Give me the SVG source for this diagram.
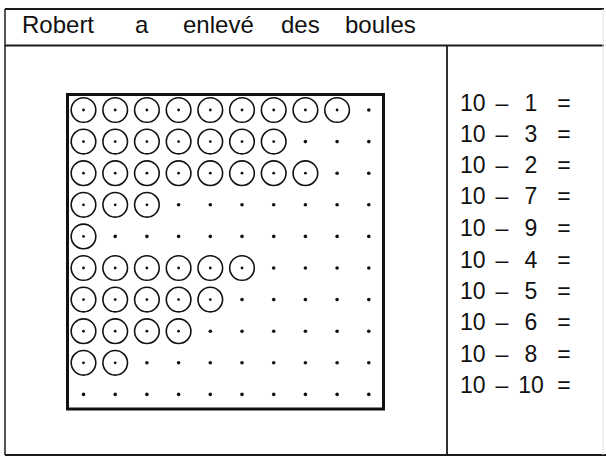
<svg xmlns="http://www.w3.org/2000/svg" xmlns:xlink="http://www.w3.org/1999/xlink" width="606" height="457" viewBox="0 0 606 457">
<style>
.frame{fill:none;stroke:#1a1a1a;stroke-width:2}
.box{fill:none;stroke:#111;stroke-width:3}
.t{font-family:"Liberation Sans",Arial,sans-serif;font-size:24px;fill:#111}
.eq{font-family:"Liberation Sans",Arial,sans-serif;font-size:23px;fill:#111}
.m{text-anchor:middle}
.ball{fill:none;stroke:#111;stroke-width:1.6}
.dot{fill:#111}
</style>
<defs>
<g id="b"><circle class="ball" r="12.3"/><circle class="dot" r="1.4"/></g>
<circle id="d" class="dot" r="1.8"/>
</defs>
<rect width="606" height="457" fill="#fff"/>
<g id="frame">
<line class="frame" x1="5" y1="9" x2="604" y2="9"/>
<line class="frame" x1="5" y1="45.5" x2="604" y2="45.5"/>
<line class="frame" x1="5" y1="455" x2="606" y2="455"/>
<line class="frame" x1="5" y1="9" x2="5" y2="455" style="stroke-width:1.5"/>
<line class="frame" x1="603" y1="9" x2="603" y2="455" style="stroke:#e4e4e4;stroke-width:1"/>
<line class="frame" x1="447" y1="45.5" x2="447" y2="455" style="stroke-width:1.8"/>
</g>
<g id="title">
<text class="t" x="22" y="33">Robert</text>
<text class="t" x="135" y="33">a</text>
<text class="t" x="183" y="33">enlevé</text>
<text class="t" x="281" y="33">des</text>
<text class="t" x="345" y="33">boules</text>
</g>
<g id="grid">
<rect class="box" x="67.5" y="94.5" width="316" height="314.5"/>
<g id="r1">
<use href="#b" x="83.5" y="110"/><use href="#b" x="115.2" y="110"/><use href="#b" x="146.9" y="110"/><use href="#b" x="178.6" y="110"/><use href="#b" x="210.3" y="110"/><use href="#b" x="242" y="110"/><use href="#b" x="273.7" y="110"/><use href="#b" x="305.4" y="110"/><use href="#b" x="337.1" y="110"/><use href="#d" x="368.8" y="110"/>
</g>
<g id="r2">
<use href="#b" x="83.5" y="141.6"/><use href="#b" x="115.2" y="141.6"/><use href="#b" x="146.9" y="141.6"/><use href="#b" x="178.6" y="141.6"/><use href="#b" x="210.3" y="141.6"/><use href="#b" x="242" y="141.6"/><use href="#b" x="273.7" y="141.6"/><use href="#d" x="305.4" y="141.6"/><use href="#d" x="337.1" y="141.6"/><use href="#d" x="368.8" y="141.6"/>
</g>
<g id="r3">
<use href="#b" x="83.5" y="173.2"/><use href="#b" x="115.2" y="173.2"/><use href="#b" x="146.9" y="173.2"/><use href="#b" x="178.6" y="173.2"/><use href="#b" x="210.3" y="173.2"/><use href="#b" x="242" y="173.2"/><use href="#b" x="273.7" y="173.2"/><use href="#b" x="305.4" y="173.2"/><use href="#d" x="337.1" y="173.2"/><use href="#d" x="368.8" y="173.2"/>
</g>
<g id="r4">
<use href="#b" x="83.5" y="204.8"/><use href="#b" x="115.2" y="204.8"/><use href="#b" x="146.9" y="204.8"/><use href="#d" x="178.6" y="204.8"/><use href="#d" x="210.3" y="204.8"/><use href="#d" x="242" y="204.8"/><use href="#d" x="273.7" y="204.8"/><use href="#d" x="305.4" y="204.8"/><use href="#d" x="337.1" y="204.8"/><use href="#d" x="368.8" y="204.8"/>
</g>
<g id="r5">
<use href="#b" x="83.5" y="236.4"/><use href="#d" x="115.2" y="236.4"/><use href="#d" x="146.9" y="236.4"/><use href="#d" x="178.6" y="236.4"/><use href="#d" x="210.3" y="236.4"/><use href="#d" x="242" y="236.4"/><use href="#d" x="273.7" y="236.4"/><use href="#d" x="305.4" y="236.4"/><use href="#d" x="337.1" y="236.4"/><use href="#d" x="368.8" y="236.4"/>
</g>
<g id="r6">
<use href="#b" x="83.5" y="268"/><use href="#b" x="115.2" y="268"/><use href="#b" x="146.9" y="268"/><use href="#b" x="178.6" y="268"/><use href="#b" x="210.3" y="268"/><use href="#b" x="242" y="268"/><use href="#d" x="273.7" y="268"/><use href="#d" x="305.4" y="268"/><use href="#d" x="337.1" y="268"/><use href="#d" x="368.8" y="268"/>
</g>
<g id="r7">
<use href="#b" x="83.5" y="299.6"/><use href="#b" x="115.2" y="299.6"/><use href="#b" x="146.9" y="299.6"/><use href="#b" x="178.6" y="299.6"/><use href="#b" x="210.3" y="299.6"/><use href="#d" x="242" y="299.6"/><use href="#d" x="273.7" y="299.6"/><use href="#d" x="305.4" y="299.6"/><use href="#d" x="337.1" y="299.6"/><use href="#d" x="368.8" y="299.6"/>
</g>
<g id="r8">
<use href="#b" x="83.5" y="331.2"/><use href="#b" x="115.2" y="331.2"/><use href="#b" x="146.9" y="331.2"/><use href="#b" x="178.6" y="331.2"/><use href="#d" x="210.3" y="331.2"/><use href="#d" x="242" y="331.2"/><use href="#d" x="273.7" y="331.2"/><use href="#d" x="305.4" y="331.2"/><use href="#d" x="337.1" y="331.2"/><use href="#d" x="368.8" y="331.2"/>
</g>
<g id="r9">
<use href="#b" x="83.5" y="362.8"/><use href="#b" x="115.2" y="362.8"/><use href="#d" x="146.9" y="362.8"/><use href="#d" x="178.6" y="362.8"/><use href="#d" x="210.3" y="362.8"/><use href="#d" x="242" y="362.8"/><use href="#d" x="273.7" y="362.8"/><use href="#d" x="305.4" y="362.8"/><use href="#d" x="337.1" y="362.8"/><use href="#d" x="368.8" y="362.8"/>
</g>
<g id="r10">
<use href="#d" x="83.5" y="394.4"/><use href="#d" x="115.2" y="394.4"/><use href="#d" x="146.9" y="394.4"/><use href="#d" x="178.6" y="394.4"/><use href="#d" x="210.3" y="394.4"/><use href="#d" x="242" y="394.4"/><use href="#d" x="273.7" y="394.4"/><use href="#d" x="305.4" y="394.4"/><use href="#d" x="337.1" y="394.4"/><use href="#d" x="368.8" y="394.4"/>
</g>
</g>
<g id="equations">
<g id="e1"><text class="eq" x="460" y="111">10</text><text class="eq m" x="502" y="111">–</text><text class="eq m" x="531" y="111">1</text><text class="eq m" x="564" y="111">=</text></g>
<g id="e2"><text class="eq" x="460" y="142">10</text><text class="eq m" x="502" y="142">–</text><text class="eq m" x="531" y="142">3</text><text class="eq m" x="564" y="142">=</text></g>
<g id="e3"><text class="eq" x="460" y="173">10</text><text class="eq m" x="502" y="173">–</text><text class="eq m" x="531" y="173">2</text><text class="eq m" x="564" y="173">=</text></g>
<g id="e4"><text class="eq" x="460" y="204">10</text><text class="eq m" x="502" y="204">–</text><text class="eq m" x="531" y="204">7</text><text class="eq m" x="564" y="204">=</text></g>
<g id="e5"><text class="eq" x="460" y="236">10</text><text class="eq m" x="502" y="236">–</text><text class="eq m" x="531" y="236">9</text><text class="eq m" x="564" y="236">=</text></g>
<g id="e6"><text class="eq" x="460" y="268">10</text><text class="eq m" x="502" y="268">–</text><text class="eq m" x="531" y="268">4</text><text class="eq m" x="564" y="268">=</text></g>
<g id="e7"><text class="eq" x="460" y="299">10</text><text class="eq m" x="502" y="299">–</text><text class="eq m" x="531" y="299">5</text><text class="eq m" x="564" y="299">=</text></g>
<g id="e8"><text class="eq" x="460" y="330">10</text><text class="eq m" x="502" y="330">–</text><text class="eq m" x="531" y="330">6</text><text class="eq m" x="564" y="330">=</text></g>
<g id="e9"><text class="eq" x="460" y="362">10</text><text class="eq m" x="502" y="362">–</text><text class="eq m" x="531" y="362">8</text><text class="eq m" x="564" y="362">=</text></g>
<g id="e10"><text class="eq" x="460" y="393">10</text><text class="eq m" x="502" y="393">–</text><text class="eq m" x="531" y="393">10</text><text class="eq m" x="564" y="393">=</text></g>
</g>
</svg>
